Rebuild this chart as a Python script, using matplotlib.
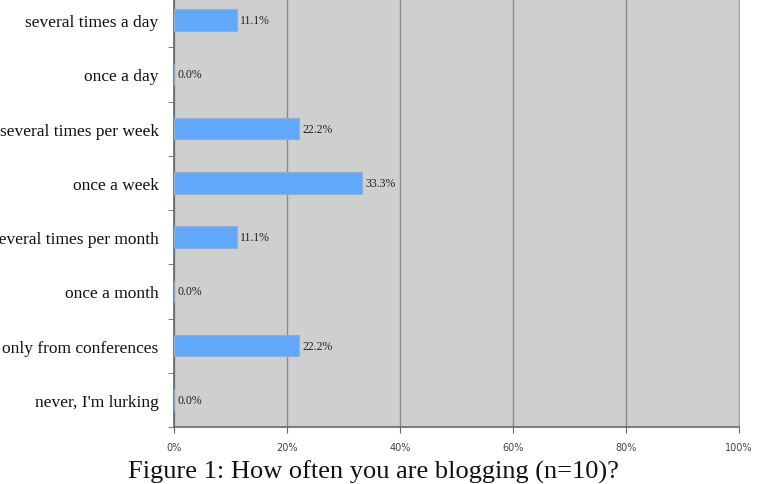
import matplotlib
matplotlib.use('Agg')
import matplotlib.pyplot as plt
import numpy as np

categories = ['several times a day', 'once a day', 'several times per week', 'once a week',
              'several times per month', 'once a month', 'only from conferences', "never, I'm lurking"]
values = [11.1, 0.0, 22.2, 33.3, 11.1, 0.0, 22.2, 0.0]
xticks = [0, 20, 40, 60, 80, 100]
caption = 'Figure 1: How often you are blogging (n=10)?'

fig = plt.figure(figsize=(7.6, 4.85), dpi=100)
ax = fig.add_axes([174 / 760, 1 - 428 / 485, 565 / 760, 434 / 485])
ax.set_facecolor('#cfcfcf')

y = np.arange(len(categories))
ax.barh(y, values, height=0.4, color='#62a8fa', edgecolor='#8fb0d0', linewidth=0.8, zorder=3)
for yi, v in zip(y, values):
    ax.text(v + 0.6, yi, '%.1f%%' % v, va='center', ha='left', fontsize=8.5,
            family='Liberation Serif', color='#222222', zorder=4)

ax.set_ylim(len(categories) - 0.5, -0.5)
ax.set_xlim(0, 100)
ax.set_yticks(y)
ax.set_yticklabels(categories, family='Liberation Serif', fontsize=12.5, color='#111111')
ax.set_yticks(np.arange(len(categories) + 1) - 0.5, minor=True)
ax.tick_params(axis='y', which='major', length=0, pad=11)
ax.tick_params(axis='y', which='minor', length=4, color='#666666')

ax.set_xticks(xticks)
ax.set_xticklabels(['%d%%' % t for t in xticks], fontsize=7, color='#444444')
ax.tick_params(axis='x', length=4, color='#666666', pad=7)
ax.xaxis.grid(True, color='#8a8a8a', linewidth=1.0, zorder=1)

for s in ['left', 'bottom']:
    ax.spines[s].set_color('#666666')
    ax.spines[s].set_linewidth(1.2)
for s in ['right', 'top']:
    ax.spines[s].set_color('#aaaaaa')
    ax.spines[s].set_linewidth(0.8)

fig.text(373 / 760, 1 - 461 / 485, caption, ha='center', va='top', fontsize=19,
         family='Liberation Serif', color='#111111')

fig.savefig('out.png', dpi=100)
